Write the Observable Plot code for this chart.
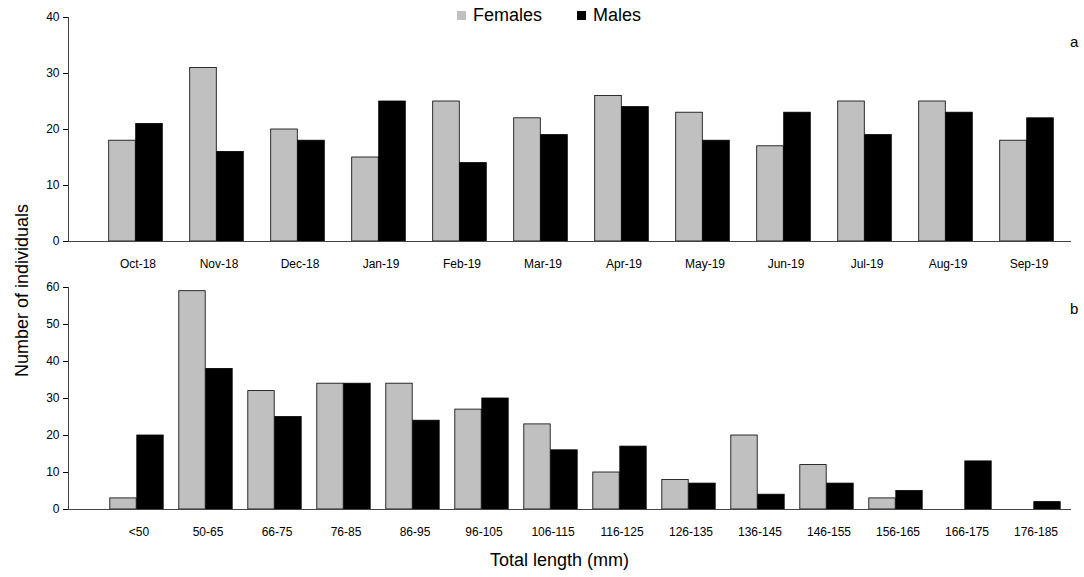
<!DOCTYPE html><html><head><meta charset="utf-8">
<script src="https://cdn.jsdelivr.net/npm/d3@7"></script>
<script src="https://cdn.jsdelivr.net/npm/@observablehq/plot@0.6"></script>
<style>
body{margin:0;background:#fff;font-family:"Liberation Sans",Arial,sans-serif;}
#wrap{position:relative;width:1084px;height:577px;overflow:hidden;}
.abs{position:absolute;}
svg{font-family:"Liberation Sans",Arial,sans-serif;}
</style></head><body><div id="wrap"></div>
<script>
const months=["Oct-18","Nov-18","Dec-18","Jan-19","Feb-19","Mar-19","Apr-19","May-19","Jun-19","Jul-19","Aug-19","Sep-19"];
const monthF=[18,31,20,15,25,22,26,23,17,25,25,18];
const monthM=[21,16,18,25,14,19,24,18,23,19,23,22];
const sizes=["<50","50-65","66-75","76-85","86-95","96-105","106-115","116-125","126-135","136-145","146-155","156-165","166-175","176-185"];
const sizeF=[3,59,32,34,34,27,23,10,8,20,12,3,0,0];
const sizeM=[20,38,25,34,24,30,16,17,7,4,7,5,13,2];

function panel(cats,F,M,opts){
  const data=cats.map((c,i)=>({c,f:F[i],m:M[i]}));
  const bw=(opts.range[1]-opts.range[0])/cats.length;
  const outer=(bw-54)/2;
  return Plot.plot({width:1084,height:opts.height,marginLeft:68,marginRight:13,marginTop:opts.mt,marginBottom:opts.mb,
    style:{fontSize:"12px",color:"#000",overflow:"visible"},
    x:{domain:cats,range:opts.range,padding:0,label:null,tickSize:0,tickPadding:18},
    y:{domain:opts.ydom,ticks:opts.ticks,label:null,tickSize:5},
    marks:[
      Plot.barY(data,{x:"c",y:"f",fill:"#c0c0c0",stroke:"#000",strokeWidth:0.8,insetLeft:outer-2,insetRight:bw/2+2}),
      Plot.barY(data,{x:"c",y:"m",fill:"#000",stroke:"#000",strokeWidth:0.8,insetLeft:bw/2-2,insetRight:outer+2}),
      Plot.ruleY([0],{stroke:"#444"}),
      Plot.frame({anchor:"left",stroke:"#444"})
    ]});
}
const wrap=document.getElementById("wrap");
function place(el,top,left){el.classList.add("abs");el.style.top=top+"px";el.style.left=(left||0)+"px";wrap.appendChild(el);return el;}
place(panel(months,monthF,monthM,{height:280,mt:17,mb:39,range:[94,1071],ydom:[0,40],ticks:[0,10,20,30,40]}),0);
place(panel(sizes,sizeF,sizeM,{height:270,mt:7,mb:41,range:[100.2,1074.6],ydom:[0,60],ticks:[0,10,20,30,40,50,60]}),280);
function txt(s,top,left,css){const d=document.createElement("div");d.textContent=s;d.style.cssText=css||"";return place(d,top,left);}
txt("a",33,1070,"font-size:15px");
txt("b",300,1070,"font-size:15px");
txt("Total length (mm)",550,490,"font-size:18px");
txt("Number of individuals",280,-88,"font-size:18px;transform:rotate(-90deg);width:220px;text-align:center;");
const lg=txt("",5,457,"font-size:18px;display:flex;align-items:center;gap:7px;");
lg.innerHTML='<span style="display:inline-block;width:9px;height:9px;background:#c0c0c0"></span>Females<span style="display:inline-block;width:9px;height:9px;background:#000;margin-left:28px"></span>Males';
</script></body></html>
